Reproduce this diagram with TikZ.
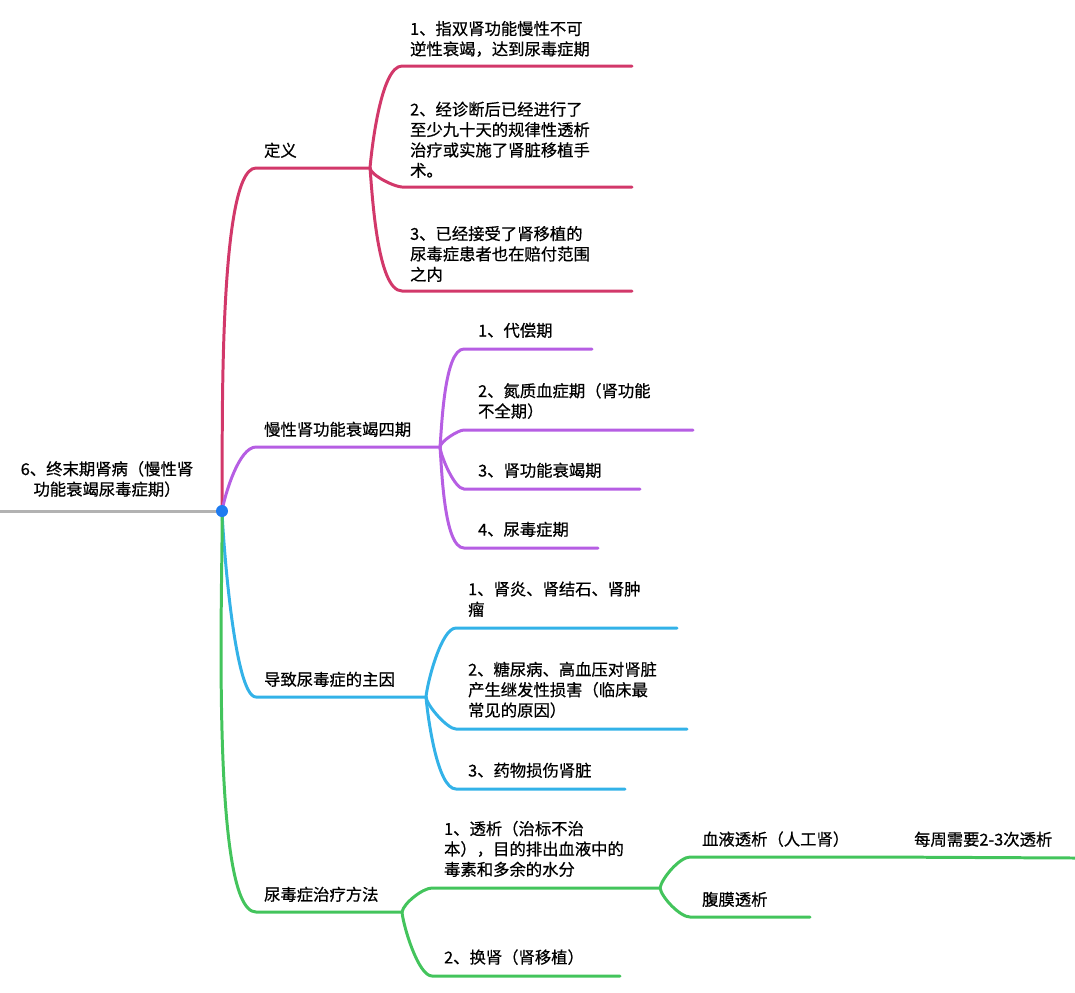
\documentclass[tikz,border=0pt]{standalone}
\usepackage{fontspec}
\newfontfamily\cjkfont[FakeBold=0.6]{Noto Sans CJK SC}
\usetikzlibrary{positioning}
\definecolor{defRed}{HTML}{D2386A}
\definecolor{stagePurple}{HTML}{B65EE3}
\definecolor{causeBlue}{HTML}{33B2E8}
\definecolor{treatGreen}{HTML}{43C45C}
\definecolor{hubBlue}{HTML}{1E7BF0}

\begin{document}
\begin{tikzpicture}[
    x=0.02cm, y=-0.02cm,
    edge/.style={line width=1.7pt, line cap=round},
    lbl/.style={anchor=south west, align=left, inner sep=1pt, font=\cjkfont\fontsize{9.3}{11.6}\selectfont},
    up/.style={out=88, in=180, looseness=0.3},
    down/.style={out=-88, in=180, looseness=0.3},
]
    \useasboundingbox (0,0) rectangle (1075,992);

    % root
    \coordinate (rootL) at (0,511);
    \coordinate (hub) at (222,511);
    \node[lbl, anchor=center, align=center] (root) at (107,479) {6、终末期肾病（慢性肾\\功能衰竭尿毒症期）};
    \draw[edge, gray!60] (rootL) -- (hub);

    % definition
    \coordinate (defS) at (256,168);  \coordinate (defE) at (370,168);
    \node[lbl] (def) at (262,160) {定义};
    \draw[edge, defRed] (hub) to[up] (defS) -- (defE);
    \foreach \y/\xe/\name in {66/632/d1, 187/632/d2, 291/632/d3} {
        \coordinate (\name S) at (402,\y); \coordinate (\name E) at (\xe,\y);
        \draw[edge, defRed] (defE) to[out={\y<168 ? 85 : -85}, in=180, looseness=0.5] (\name S) -- (\name E);
    }
    \node[lbl] (d1) at (408,59) {1、指双肾功能慢性不可\\逆性衰竭，达到尿毒症期};
    \node[lbl] (d2) at (408,180) {2、经诊断后已经进行了\\至少九十天的规律性透析\\治疗或实施了肾脏移植手\\术。};
    \node[lbl] (d3) at (408,284) {3、已经接受了肾移植的\\尿毒症患者也在赔付范围\\之内};

    % stages
    \coordinate (stS) at (256,447);  \coordinate (stE) at (440,447);
    \node[lbl] (st) at (262,439) {慢性肾功能衰竭四期};
    \draw[edge, stagePurple] (hub) to[out=80, in=180, looseness=0.6] (stS) -- (stE);
    \foreach \y/\xe/\name in {349/592/s1, 430/693/s2, 489/640/s3, 548/598/s4} {
        \coordinate (\name S) at (464,\y); \coordinate (\name E) at (\xe,\y);
        \draw[edge, stagePurple] (stE) to[out={\y<447 ? 85 : -85}, in=180, looseness=0.5] (\name S) -- (\name E);
    }
    \node[lbl] (s1) at (476,340) {1、代偿期};
    \node[lbl] (s2) at (476,421) {2、氮质血症期（肾功能\\不全期）};
    \node[lbl] (s3) at (476,480) {3、肾功能衰竭期};
    \node[lbl] (s4) at (476,539) {4、尿毒症期};

    % causes
    \coordinate (caS) at (256,697);  \coordinate (caE) at (426,697);
    \node[lbl] (ca) at (262,689) {导致尿毒症的主因};
    \draw[edge, causeBlue] (hub) to[down] (caS) -- (caE);
    \foreach \y/\xe/\name in {628/677/c1, 729/687/c2, 789/625/c3} {
        \coordinate (\name S) at (456,\y); \coordinate (\name E) at (\xe,\y);
        \draw[edge, causeBlue] (caE) to[out={\y<697 ? 85 : -85}, in=180, looseness=0.5] (\name S) -- (\name E);
    }
    \node[lbl] (c1) at (466,619) {1、肾炎、肾结石、肾肿\\瘤};
    \node[lbl] (c2) at (466,720) {2、糖尿病、高血压对肾脏\\产生继发性损害（临床最\\常见的原因）};
    \node[lbl] (c3) at (466,780) {3、药物损伤肾脏};

    % treatment
    \coordinate (trS) at (256,912);  \coordinate (trE) at (402,912);
    \node[lbl] (tr) at (262,904) {尿毒症治疗方法};
    \draw[edge, treatGreen] (hub) to[down] (trS) -- (trE);
    \coordinate (t1S) at (432,888); \coordinate (t1E) at (660,888);
    \coordinate (t2S) at (432,976); \coordinate (t2E) at (620,976);
    \draw[edge, treatGreen] (trE) to[out=80, in=180, looseness=0.6] (t1S) -- (t1E);
    \draw[edge, treatGreen] (trE) to[out=-85, in=180, looseness=0.5] (t2S) -- (t2E);
    \node[lbl] (t1) at (442,879) {1、透析（治标不治\\本），目的排出血液中的\\毒素和多余的水分};
    \node[lbl] (t2) at (442,967) {2、换肾（肾移植）};
    \coordinate (h1S) at (690,857); \coordinate (h1E) at (880,857);
    \coordinate (h2S) at (690,917); \coordinate (h2E) at (810,917);
    \coordinate (wkE) at (1075,858);
    \draw[edge, treatGreen] (t1E) to[out=80, in=180, looseness=0.6] (h1S) -- (h1E) -- (wkE);
    \draw[edge, treatGreen] (t1E) to[out=-80, in=180, looseness=0.6] (h2S) -- (h2E);
    \node[lbl] (h1) at (700,849) {血液透析（人工肾）};
    \node[lbl] (h2) at (700,909) {腹膜透析};
    \node[lbl] (wk) at (912,849) {每周需要2-3次透析};

    \fill[hubBlue] (hub) circle (6);
\end{tikzpicture}
\end{document}
